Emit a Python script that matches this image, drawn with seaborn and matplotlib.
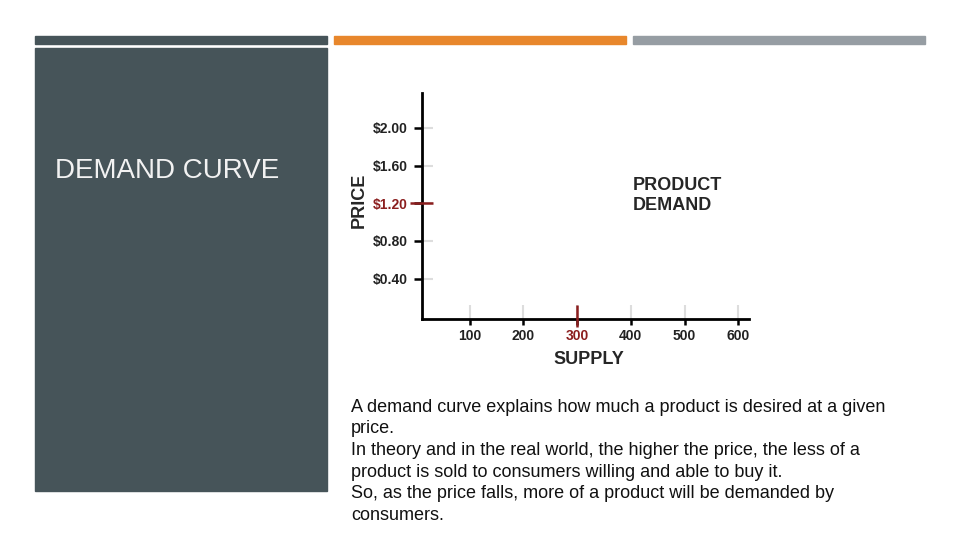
import matplotlib
matplotlib.use("Agg")
import matplotlib.pyplot as plt
from matplotlib.patches import Rectangle
import seaborn as sns

sns.set_style("white")
plt.rcParams["font.family"] = ["Liberation Sans", "DejaVu Sans"]

# chart data
price_ticks = [0.40, 0.80, 1.20, 1.60, 2.00]
price_labels = ["$0.40", "$0.80", "$1.20", "$1.60", "$2.00"]
supply_ticks = [100, 200, 300, 400, 500, 600]
supply_labels = ["100", "200", "300", "400", "500", "600"]
price_mark = 1.20
supply_mark = 300

title = "DEMAND CURVE"
curve_label = ["PRODUCT", "DEMAND"]
body_lines = [
    "A demand curve explains how much a product is desired at a given",
    "price.",
    "In theory and in the real world, the higher the price, the less of a",
    "product is sold to consumers willing and able to buy it.",
    "So, as the price falls, more of a product will be demanded by",
    "consumers.",
]

W, H = 960, 540
dark = "#465459"
orange = "#E8872C"
grey = "#969DA3"
red = "#8B1E1E"

fig = plt.figure(figsize=(9.6, 5.4), dpi=100)
fig.patch.set_facecolor("white")


def px_rect(x0, y0, x1, y1, color):
    fig.patches.append(Rectangle((x0 / W, 1 - y1 / H), (x1 - x0) / W, (y1 - y0) / H,
                                 transform=fig.transFigure, color=color, zorder=0))


# slide decoration
px_rect(35, 36, 327, 44, dark)
px_rect(334, 36, 626, 44, orange)
px_rect(633, 36, 925, 44, grey)
px_rect(35, 48, 327, 491, dark)
fig.text(55 / W, 1 - 171 / H, title, color="#F2F2F2", fontsize=20, va="center", ha="left")

# chart
left, right, top, bottom = 422, 749, 93, 319
ax = fig.add_axes([left / W, 1 - bottom / H, (right - left) / W, (bottom - top) / H])
ax.set_facecolor("white")
ax.set_xlim(11, 620)
ax.set_ylim(-0.03, 2.37)
sns.despine(ax=ax)
for s in ["left", "bottom"]:
    ax.spines[s].set_linewidth(2)
    ax.spines[s].set_color("black")

ax.set_yticks(price_ticks)
ax.set_yticklabels(price_labels)
ax.set_xticks(supply_ticks)
ax.set_xticklabels(supply_labels)
# seaborn's white style switches ticks off, turn them back on
ax.tick_params(axis="y", left=True, direction="out", length=6, width=1.8, color="black",
               pad=4, labelsize=10, labelcolor="#222222")
ax.tick_params(axis="x", bottom=True, direction="out", length=4.5, width=1.8, color="black",
               pad=3, labelsize=10, labelcolor="#222222")
for lab in ax.get_xticklabels() + ax.get_yticklabels():
    lab.set_fontweight("bold")

# light inward stubs
ax_w, ax_h = right - left, bottom - top
ax.hlines(price_ticks, 0, 11 / ax_w, transform=ax.get_yaxis_transform(), color="#dddddd", lw=1.5)
ax.vlines(supply_ticks, 0, 14 / ax_h, transform=ax.get_xaxis_transform(), color="#dddddd", lw=1.5)

# highlighted price / supply (drawn over the black tick)
ax.hlines(price_mark, -12 / ax_w, 11 / ax_w, transform=ax.get_yaxis_transform(),
          color=red, lw=1.8, clip_on=False, zorder=5)
ax.vlines(supply_mark, -8 / ax_h, 14 / ax_h, transform=ax.get_xaxis_transform(),
          color=red, lw=1.8, clip_on=False, zorder=5)
for lab, v in zip(ax.get_yticklabels(), price_ticks):
    if abs(v - price_mark) < 1e-9:
        lab.set_color(red)
for lab, v in zip(ax.get_xticklabels(), supply_ticks):
    if v == supply_mark:
        lab.set_color(red)

fig.text(359 / W, 1 - 200 / H, "PRICE", rotation=90, fontsize=13, fontweight="bold",
         ha="center", va="center")
fig.text(589 / W, 1 - 360 / H, "SUPPLY", fontsize=13, fontweight="bold",
         ha="center", va="center")
for i, line in enumerate(curve_label):
    fig.text(633 / W, 1 - (185 + 21 * i) / H, line, fontsize=13, fontweight="bold",
             ha="left", va="center")

# body text
for i, line in enumerate(body_lines):
    fig.text(351 / W, 1 - (407 + 21.7 * i) / H, line, fontsize=13, color="#111111",
             ha="left", va="center")

fig.savefig("out.png", dpi=100)
